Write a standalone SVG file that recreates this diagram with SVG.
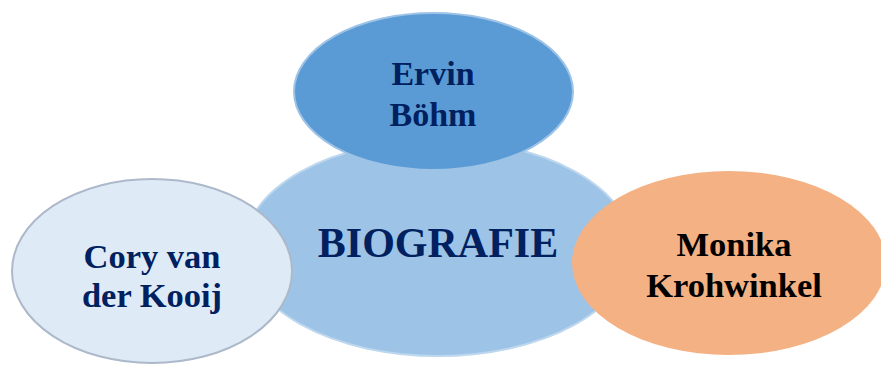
<svg xmlns="http://www.w3.org/2000/svg" width="881" height="365" viewBox="0 0 881 365">
<style>
.t{font-family:"Liberation Serif","Times New Roman",serif;font-weight:bold;text-anchor:middle}
.b{fill:#002060}
</style>
<rect width="881" height="365" fill="#ffffff"/>
<g id="connectors"/>
<g id="biografie">
<ellipse cx="438" cy="248" rx="194" ry="108" fill="#9DC3E6" stroke="#BDD7EE" stroke-width="2"/>
<text class="t b" x="438" y="257" font-size="42">BIOGRAFIE</text>
</g>
<g id="ervin">
<ellipse cx="433.5" cy="91.5" rx="139.5" ry="78.5" fill="#5B9BD5" stroke="#9DC3E6" stroke-width="2"/>
<text class="t b" font-size="34"><tspan x="433" y="85">Ervin</tspan><tspan x="433" y="126">Böhm</tspan></text>
</g>
<g id="cory">
<ellipse cx="152" cy="271" rx="140" ry="92" fill="#DEEBF7" stroke="#ADB9CA" stroke-width="2"/>
<text class="t b" font-size="34.5"><tspan x="152" y="268">Cory van</tspan><tspan x="152" y="307">der Kooij</tspan></text>
</g>
<g id="monika">
<ellipse cx="729" cy="263" rx="157" ry="92" fill="#F4B183"/>
<text class="t" fill="#000000" font-size="34.5"><tspan x="734" y="256">Monika</tspan><tspan x="734" y="297">Krohwinkel</tspan></text>
</g>
</svg>
